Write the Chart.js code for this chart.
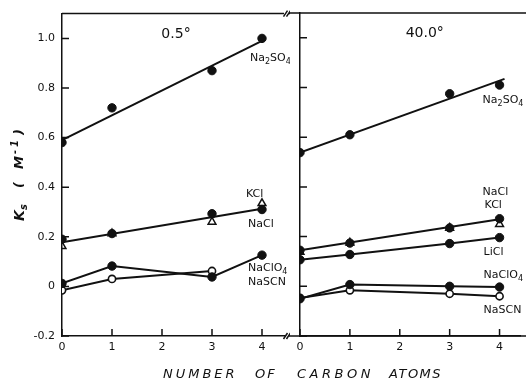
<!DOCTYPE html>
<html><head><meta charset="utf-8">
<script src="https://cdn.jsdelivr.net/npm/chart.js@4/dist/chart.umd.min.js"></script>
<style>
html,body{margin:0;padding:0;background:#fff;width:526px;height:385px;overflow:hidden;}
#wrap{position:relative;width:526px;height:385px;}
canvas{position:absolute;top:0;}
#c1{left:0;}
#c2{left:290px;}
.xt{position:absolute;top:366px;font:italic 13px "DejaVu Sans";letter-spacing:3px;color:#111;white-space:nowrap;}
</style></head><body>
<div id="wrap">
<canvas id="c1" width="290" height="385"></canvas>
<canvas id="c2" width="236" height="385"></canvas>
<span class="xt" style="left:163px">NUMBER</span>
<span class="xt" style="left:255px;letter-spacing:2px">OF</span>
<span class="xt" style="left:297px;letter-spacing:3.5px">CARBON</span>
<span class="xt" style="left:389px;letter-spacing:1.5px">ATOMS</span>
</div>
<script>
// ---- axes ----
const xTicks = [0, 1, 2, 3, 4];
const xTickLabels = ['0', '1', '2', '3', '4'];
const yTicks = [-0.2, 0, 0.2, 0.4, 0.6, 0.8, 1.0];
const yTickLabels = ['-0.2', '0', '0.2', '0.4', '0.6', '0.8', '1.0'];
const carbons = [0, 1, 3, 4];
const carbonsSCN05 = [0, 1, 3];
const fitX05 = [0, 4];
const fitX40 = [0, 4.1];

// ---- 0.5 degrees ----
const na2so4_05 = [0.58, 0.72, 0.87, 1.00];
const na2so4Fit_05 = [0.59, 0.99];
const nacl_05 = [0.19, 0.213, 0.293, 0.31];
const kcl_05 = [0.162, 0.213, 0.26, 0.335];
const chlorideFit_05 = [0.178, 0.313];
const naclo4_05 = [0.012, 0.082, 0.038, 0.126];
const nascn_05 = [-0.016, 0.03, 0.062];

// ---- 40.0 degrees ----
const na2so4_40 = [0.538, 0.61, 0.775, 0.81];
const na2so4Fit_40 = [0.538, 0.835];
const nacl_40 = [0.145, 0.174, 0.235, 0.272];
const kcl_40 = [0.138, 0.175, 0.235, 0.25];
const chlorideFit_40 = [0.145, 0.27];
const licl_40 = [0.107, 0.128, 0.172, 0.196];
const naclo4_40 = [-0.05, 0.007, 0.0, -0.003];
const nascn_40 = [-0.047, -0.016, -0.03, -0.04];

// ---- annotations (data coordinates) ----
const notes05 = [
  {t: '0.5°', x: 2.28, y: 1.018, size: 14, align: 'center'},
  {t: 'Na_{2}SO_{4}', x: 3.76, y: 0.92, size: 11, align: 'left'},
  {t: 'KCl', x: 3.68, y: 0.374, size: 11, align: 'left'},
  {t: 'NaCl', x: 3.72, y: 0.253, size: 11, align: 'left'},
  {t: 'NaClO_{4}', x: 3.72, y: 0.072, size: 11, align: 'left'},
  {t: 'NaSCN', x: 3.72, y: 0.016, size: 11, align: 'left'}
];
const notes40 = [
  {t: '40.0°', x: 2.5, y: 1.018, size: 14, align: 'center'},
  {t: 'Na_{2}SO_{4}', x: 3.66, y: 0.748, size: 11, align: 'left'},
  {t: 'NaCl', x: 3.66, y: 0.378, size: 11, align: 'left'},
  {t: 'KCl', x: 3.7, y: 0.326, size: 11, align: 'left'},
  {t: 'LiCl', x: 3.68, y: 0.137, size: 11, align: 'left'},
  {t: 'NaClO_{4}', x: 3.68, y: 0.044, size: 11, align: 'left'},
  {t: 'NaSCN', x: 3.68, y: -0.097, size: 11, align: 'left'}
];

const FONT = '"DejaVu Sans"';
const INK = '#111';

function pts(xs, ys) { return ys.map((y, i) => ({x: xs[i], y})); }
function filled(data) {
  return {data, showLine: false, pointRadius: 4.2, pointBackgroundColor: INK, pointBorderColor: INK, pointBorderWidth: 1};
}
function openCircle(data) {
  return {data, showLine: false, pointRadius: 3.6, pointBackgroundColor: '#fff', pointBorderColor: INK, pointBorderWidth: 1.6};
}
function triangle(data) {
  return {data, showLine: false, pointStyle: 'triangle', pointRadius: 4.5, pointBackgroundColor: 'rgba(255,255,255,0)', pointBorderColor: INK, pointBorderWidth: 1.5};
}
function line(data) {
  return {data, showLine: true, pointRadius: 0, borderColor: INK, borderWidth: 2};
}
function joined(ds) {
  return Object.assign(ds, {showLine: true, borderColor: INK, borderWidth: 2});
}

function parseRich(t) {
  const re = /_\{([^}]*)\}|\^\{([^}]*)\}|([^_^]+)/g;
  const out = []; let m;
  while ((m = re.exec(t))) {
    if (m[1] !== undefined) out.push({s: m[1], k: 'sub'});
    else if (m[2] !== undefined) out.push({s: m[2], k: 'sup'});
    else out.push({s: m[3], k: 'n'});
  }
  return out;
}
function drawRich(ctx, t, x, y, size, align, style) {
  const parts = parseRich(t);
  const f = (k) => (style || '') + ' ' + (k === 'n' ? size : Math.round(size * 0.72)) + 'px ' + FONT;
  let w = 0;
  parts.forEach(p => { ctx.font = f(p.k); p.w = ctx.measureText(p.s).width; w += p.w; });
  let cx = align === 'center' ? x - w / 2 : x;
  ctx.textBaseline = 'middle';
  ctx.textAlign = 'left';
  parts.forEach(p => {
    ctx.font = f(p.k);
    const dy = p.k === 'sub' ? size * 0.3 : p.k === 'sup' ? -size * 0.35 : 0;
    ctx.fillText(p.s, cx, y + dy);
    cx += p.w;
  });
}

function drawTicks(ctx, chart) {
  const ca = chart.chartArea, xs = chart.scales.x, ys = chart.scales.y;
  ctx.beginPath();
  ys.ticks.forEach(t => { const py = ys.getPixelForValue(t.value); ctx.moveTo(ca.left, py); ctx.lineTo(ca.left + 7, py); });
  xs.ticks.forEach(t => { const px = xs.getPixelForValue(t.value); ctx.moveTo(px, ca.bottom); ctx.lineTo(px, ca.bottom - 7); });
  ctx.stroke();
}
function drawSlashes(ctx, x, y) {
  ctx.beginPath();
  [x + 1.5, x + 4.5].forEach(sx => { ctx.moveTo(sx - 2, y + 3); ctx.lineTo(sx + 2, y - 3); });
  ctx.stroke();
}

const leftDeco = {
  id: 'leftDeco',
  afterDraw(chart) {
    const ctx = chart.ctx, ca = chart.chartArea, W = chart.width;
    ctx.save();
    ctx.strokeStyle = INK; ctx.fillStyle = INK; ctx.lineWidth = 1.5;
    drawTicks(ctx, chart);
    ctx.beginPath();
    ctx.moveTo(ca.left, ca.top); ctx.lineTo(ca.right, ca.top);
    ctx.moveTo(ca.right + 5, ca.top); ctx.lineTo(W, ca.top);
    ctx.moveTo(ca.right + 5, ca.bottom); ctx.lineTo(W, ca.bottom);
    ctx.stroke();
    drawSlashes(ctx, ca.right, ca.top);
    drawSlashes(ctx, ca.right, ca.bottom);
    notes05.forEach(n => drawRich(ctx, n.t, chart.scales.x.getPixelForValue(n.x), chart.scales.y.getPixelForValue(n.y), n.size, n.align));
    // y axis title, rotated
    ctx.translate(20, 0);
    ctx.rotate(-Math.PI / 2);
    ctx.textBaseline = 'middle'; ctx.textAlign = 'left';
    ctx.font = 'italic bold 14px ' + FONT;
    ctx.fillText('K', -221, 0);
    ctx.font = 'italic bold 10px ' + FONT;
    ctx.fillText('s', -210, 4);
    ctx.font = 'italic bold 13px ' + FONT;
    ctx.fillText('(', -188, 0);
    ctx.fillText('M', -169, 0);
    ctx.font = 'italic bold 10px ' + FONT;
    ctx.fillText('-', -154, -5);
    ctx.fillText('1', -147, -5);
    ctx.font = 'italic bold 13px ' + FONT;
    ctx.fillText(')', -135, 0);
    ctx.restore();
  }
};
const rightDeco = {
  id: 'rightDeco',
  afterDraw(chart) {
    const ctx = chart.ctx, ca = chart.chartArea, W = chart.width;
    ctx.save();
    ctx.strokeStyle = INK; ctx.fillStyle = INK; ctx.lineWidth = 1.5;
    drawTicks(ctx, chart);
    ctx.beginPath();
    ctx.moveTo(0, ca.top); ctx.lineTo(W, ca.top);
    ctx.moveTo(0, ca.bottom); ctx.lineTo(W, ca.bottom);
    ctx.stroke();
    notes40.forEach(n => drawRich(ctx, n.t, chart.scales.x.getPixelForValue(n.x), chart.scales.y.getPixelForValue(n.y), n.size, n.align));
    ctx.restore();
  }
};

function makeOptions(isLeft, xmax) {
  return {
    responsive: false, animation: false,
    layout: {padding: {left: 0, right: isLeft ? 6 : 0, top: 13, bottom: 0}},
    plugins: {legend: {display: false}, tooltip: {enabled: false}},
    scales: {
      x: {
        type: 'linear', min: 0, max: xmax,
        afterBuildTicks: s => { s.ticks = xTicks.map(v => ({value: v})); },
        afterFit: s => { s.height = 49; },
        ticks: {autoSkip: false, maxRotation: 0, padding: 5, color: INK, font: {family: FONT, size: 11},
                callback: (v, i) => xTickLabels[i]},
        grid: {display: false, drawTicks: false},
        border: {display: true, color: INK, width: 1.5}
      },
      y: {
        type: 'linear', min: -0.2, max: 1.1,
        afterBuildTicks: s => { s.ticks = yTicks.map(v => ({value: v})); },
        afterFit: s => { s.width = isLeft ? 62 : 10; },
        ticks: {display: isLeft, autoSkip: false, padding: 7, color: INK, font: {family: FONT, size: 11},
                callback: (v, i) => yTickLabels[i]},
        grid: {display: false, drawTicks: false},
        border: {display: true, color: INK, width: 1.5}
      }
    }
  };
}

new Chart(document.getElementById('c1'), {
  type: 'scatter',
  data: {datasets: [
    filled(pts(carbons, na2so4_05)),
    filled(pts(carbons, nacl_05)),
    triangle(pts(carbons, kcl_05)),
    joined(filled(pts(carbons, naclo4_05))),
    joined(openCircle(pts(carbonsSCN05, nascn_05))),
    line(pts(fitX05, na2so4Fit_05)),
    line(pts(fitX05, chlorideFit_05))
  ]},
  options: makeOptions(true, 4.44),
  plugins: [leftDeco]
});

new Chart(document.getElementById('c2'), {
  type: 'scatter',
  data: {datasets: [
    filled(pts(carbons, na2so4_40)),
    filled(pts(carbons, nacl_40)),
    triangle(pts(carbons, kcl_40)),
    filled(pts(carbons, licl_40)),
    joined(filled(pts(carbons, naclo4_40))),
    joined(openCircle(pts(carbons, nascn_40))),
    line(pts(fitX40, na2so4Fit_40)),
    line(pts(fitX05, chlorideFit_40)),
    line(pts(carbons, licl_40))
  ]},
  options: makeOptions(false, 4.41),
  plugins: [rightDeco]
});
</script>
</body></html>
